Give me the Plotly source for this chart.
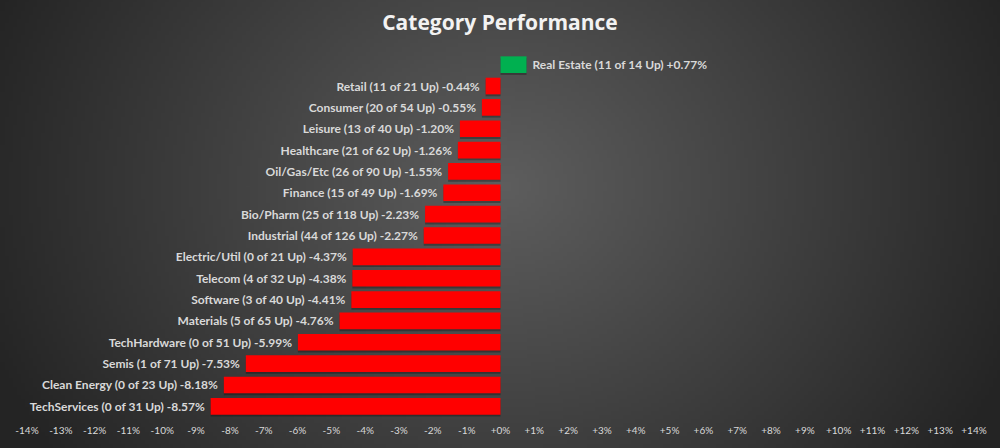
import base64
import struct
import zlib

import numpy as np
import plotly.graph_objects as go

# category data, top to bottom as drawn
categories = ["Real Estate", "Retail", "Consumer", "Leisure", "Healthcare",
              "Oil/Gas/Etc", "Finance", "Bio/Pharm", "Industrial", "Electric/Util",
              "Telecom", "Software", "Materials", "TechHardware", "Semis",
              "Clean Energy", "TechServices"]
up_counts = [11, 11, 20, 13, 21, 26, 15, 25, 44, 0, 4, 3, 5, 0, 1, 0, 0]
totals = [14, 21, 54, 40, 62, 90, 49, 118, 126, 21, 32, 40, 65, 51, 71, 23, 31]
pct_change = [0.77, -0.44, -0.55, -1.20, -1.26, -1.55, -1.69, -2.23, -2.27,
              -4.37, -4.38, -4.41, -4.76, -5.99, -7.53, -8.18, -8.57]

tick_vals = list(range(-14, 15))
tick_text = [("+" if v >= 0 else "") + f"{v}%" for v in tick_vals]


def gradient_png(w=250, h=112):
    # radial grey background, lighter in the middle
    yy, xx = np.mgrid[0:h, 0:w]
    cx, cy = w * 0.5, h * 0.42
    d = np.sqrt(((xx - cx) / (w * 0.5)) ** 2 + ((yy - cy) / (h * 0.95)) ** 2)
    d = np.clip(d / 1.1, 0, 1)
    v = (94 - (94 - 36) * d).astype(np.uint8)
    raw = b"".join(b"\x00" + bytes(row) for row in v)

    def chunk(tag, data):
        c = struct.pack(">I", len(data)) + tag + data
        return c + struct.pack(">I", zlib.crc32(tag + data) & 0xffffffff)

    png = (b"\x89PNG\r\n\x1a\n"
           + chunk(b"IHDR", struct.pack(">IIBBBBB", w, h, 8, 0, 0, 0, 0))
           + chunk(b"IDAT", zlib.compress(raw, 9))
           + chunk(b"IEND", b""))
    return "data:image/png;base64," + base64.b64encode(png).decode()


labels = []
for c, u, t, p in zip(categories, up_counts, totals, pct_change):
    txt = f"{c} ({u} of {t} Up) {'+' if p >= 0 else ''}{p:.2f}%"
    # a little breathing room between the label and the bar end
    labels.append("\u00a0" + txt if p >= 0 else txt + "\u00a0")
colors = ["#00b050" if p >= 0 else "#ff0000" for p in pct_change]

fig = go.Figure()
# soft drop shadow under each bar
fig.add_trace(go.Bar(
    y=categories, x=pct_change, orientation="h",
    marker=dict(color="rgba(0,0,0,0.28)", line=dict(width=0)),
    width=0.78, offset=-0.30, hoverinfo="skip",
))
fig.add_trace(go.Bar(
    y=categories, x=pct_change, orientation="h",
    marker=dict(color=colors, line=dict(width=0)),
    width=0.78, offset=-0.39,
    text=labels, textposition="outside", cliponaxis=False,
    textfont=dict(family="Lato", size=12, color="#d9d9d9", weight="bold"),
    hoverinfo="skip",
))

fig.update_layout(
    width=1000, height=448,
    margin=dict(l=27, r=26, t=54, b=27),
    barmode="overlay",
    paper_bgcolor="#3c3c3c", plot_bgcolor="rgba(0,0,0,0)",
    title=dict(text="<b>Category Performance</b>", x=0.5, xanchor="center",
               y=0.95, yanchor="middle",
               font=dict(family="Open Sans", size=21, color="#f2f2f2")),
    showlegend=False,
    images=[dict(source=gradient_png(), xref="paper", yref="paper",
                 x=-0.03, y=1.17, sizex=1.06, sizey=1.26,
                 xanchor="left", yanchor="top", sizing="stretch", layer="below")],
)
fig.update_xaxes(range=[-14, 14], tickvals=tick_vals, ticktext=tick_text,
                 showgrid=False, zeroline=False, showline=False,
                 tickfont=dict(family="Lato", size=10, color="#d9d9d9"),
                 ticks="", ticklabelstandoff=6)
fig.update_yaxes(autorange="reversed", showticklabels=False, showgrid=False,
                 zeroline=False)

fig.write_html("out.html", config={"displayModeBar": False},
               post_script="document.body.style.margin='0';"
                           "document.body.style.overflow='hidden';")
